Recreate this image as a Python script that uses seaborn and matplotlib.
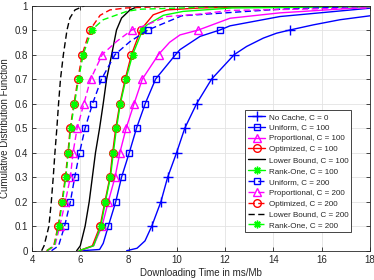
import numpy as np
import pandas as pd
import matplotlib
matplotlib.use("Agg")
import matplotlib.pyplot as plt
import seaborn as sns

# ---------------- data ----------------
labels = ["No Cache, C = 0", "Uniform, C = 100", "Proportional, C = 100",
          "Optimized, C = 100", "Lower Bound, C = 100", "Rank-One, C = 100",
          "Uniform, C = 200", "Proportional, C = 200", "Optimized, C = 200",
          "Lower Bound, C = 200", "Rank-One, C = 200"]

nocache_x = [7.92, 8.35, 8.68, 8.96, 9.34, 9.62, 9.99, 10.33, 10.82, 11.44, 12.38, 12.89, 13.58, 14.13, 14.68, 15.65, 16.76, 18.0]
nocache_y = [0, 0.01, 0.04, 0.1, 0.2, 0.3, 0.4, 0.5, 0.6, 0.7, 0.8, 0.833, 0.867, 0.887, 0.9, 0.921, 0.942, 0.958]

unif100_x = [6.06, 6.8, 6.95, 7.16, 7.47, 7.71, 8.03, 8.33, 8.69, 9.12, 9.95, 10.13, 10.96, 11.78, 12.2, 14.27, 18.0]
unif100_y = [0, 0.005, 0.03, 0.1, 0.2, 0.3, 0.4, 0.5, 0.6, 0.7, 0.8, 0.82, 0.874, 0.9, 0.917, 0.955, 0.989]

prop100_x = [6.0, 6.55, 6.9, 7.16, 7.44, 7.64, 7.9, 8.23, 8.57, 9.24, 9.7, 10.13, 10.89, 12.2, 14.27, 18.0]
prop100_y = [0, 0.02, 0.1, 0.2, 0.3, 0.4, 0.5, 0.6, 0.7, 0.8, 0.85, 0.88, 0.9, 0.948, 0.97, 0.993]

opt100_x = [5.95, 6.5, 6.82, 7.02, 7.23, 7.34, 7.47, 7.64, 7.86, 8.12, 8.5, 9.02, 9.58, 10.96, 14.0, 18.0]
opt100_y = [0, 0.02, 0.1, 0.2, 0.3, 0.4, 0.5, 0.6, 0.7, 0.8, 0.9, 0.962, 0.982, 0.99, 0.997, 1.0]

lb100_x = [5.85, 6.0, 6.2, 6.37, 6.5, 6.63, 6.8, 6.95, 7.09, 7.3, 7.5, 7.71, 8.06, 8.47]
lb100_y = [0, 0.02, 0.1, 0.2, 0.3, 0.4, 0.5, 0.6, 0.7, 0.8, 0.9, 0.949, 0.982, 1.0]

rank100_x = [5.95, 6.55, 6.85, 7.04, 7.25, 7.37, 7.5, 7.66, 7.89, 8.17, 8.58, 8.75, 9.44, 10.26, 12.3, 18.0]
rank100_y = [0, 0.02, 0.1, 0.2, 0.3, 0.4, 0.5, 0.6, 0.7, 0.8, 0.9, 0.92, 0.96, 0.976, 0.99, 0.995]

unif200_x = [4.81, 5.1, 5.35, 5.59, 5.77, 5.97, 6.2, 6.51, 6.88, 7.44, 8.06, 8.8, 10.2, 14.27, 18.0]
unif200_y = [0, 0.02, 0.1, 0.2, 0.3, 0.4, 0.5, 0.6, 0.7, 0.8, 0.853, 0.9, 0.958, 0.985, 0.997]

prop200_x = [4.65, 4.95, 5.15, 5.38, 5.59, 5.7, 5.87, 6.15, 6.43, 6.91, 7.5, 8.13, 8.75, 9.58, 10.96, 12.2, 18.0]
prop200_y = [0, 0.02, 0.1, 0.2, 0.3, 0.4, 0.5, 0.6, 0.7, 0.8, 0.853, 0.9, 0.921, 0.955, 0.965, 0.98, 0.99]

opt200_x = [4.6, 4.9, 5.08, 5.24, 5.38, 5.49, 5.58, 5.74, 5.9, 6.08, 6.4, 6.82, 7.23, 7.9, 10.0, 18.0]
opt200_y = [0, 0.02, 0.1, 0.2, 0.3, 0.4, 0.5, 0.6, 0.7, 0.8, 0.9, 0.96, 0.982, 0.99, 0.998, 1.0]

lb200_x = [4.4, 4.5, 4.7, 4.8, 4.88, 4.95, 5.03, 5.1, 5.18, 5.3, 5.45, 5.57, 5.78, 6.2]
lb200_y = [0, 0.02, 0.1, 0.2, 0.3, 0.4, 0.5, 0.6, 0.7, 0.8, 0.9, 0.949, 0.982, 1.0]

rank200_x = [4.62, 4.92, 5.1, 5.26, 5.4, 5.51, 5.6, 5.76, 5.93, 6.12, 6.47, 6.95, 7.92, 8.5, 12.0, 18.0]
rank200_y = [0, 0.02, 0.1, 0.2, 0.3, 0.4, 0.5, 0.6, 0.7, 0.8, 0.9, 0.942, 0.976, 0.985, 0.995, 0.998]

marker_levels = [0.1, 0.2, 0.3, 0.4, 0.5, 0.6, 0.7, 0.8, 0.9]

xs = [nocache_x, unif100_x, prop100_x, opt100_x, lb100_x, rank100_x,
      unif200_x, prop200_x, opt200_x, lb200_x, rank200_x]
ys = [nocache_y, unif100_y, prop100_y, opt100_y, lb100_y, rank100_y,
      unif200_y, prop200_y, opt200_y, lb200_y, rank200_y]

# ---------------- style ----------------
BLUE, MAG, RED, BLK, GRN = "#0000ff", "#ff00ff", "#ff0000", "#000000", "#00ff00"
styles = [
    dict(color=BLUE, ls="-", marker="+", ms=6.5, mfc=BLUE),
    dict(color=BLUE, ls="-", marker="s", ms=4.5, mfc="none"),
    dict(color=MAG, ls="-", marker="^", ms=6, mfc="none"),
    dict(color=RED, ls="-", marker="o", ms=5.5, mfc="none"),
    dict(color=BLK, ls="-", marker=None, ms=0, mfc="none"),
    dict(color=GRN, ls="-", marker=(8, 2, 0), ms=5.5, mfc=GRN),
    dict(color=BLUE, ls="--", marker="s", ms=4.5, mfc="none"),
    dict(color=MAG, ls="--", marker="^", ms=6, mfc="none"),
    dict(color=RED, ls="--", marker="o", ms=5.5, mfc="none"),
    dict(color=BLK, ls="--", marker=None, ms=0, mfc="none"),
    dict(color=GRN, ls="--", marker=(8, 2, 0), ms=5.5, mfc=GRN),
]

sns.set_theme(style="whitegrid")
plt.rcParams["font.family"] = ["Liberation Sans", "DejaVu Sans"]
TXT = "#262626"

fig = plt.figure(figsize=(3.74, 2.80), dpi=100)
ax = fig.add_axes([32/374, 1 - 250.7/280, (370 - 32)/374, (250.7 - 5.5)/280])
ax.set_facecolor("white")

for lab, x, y, st in zip(labels, xs, ys, styles):
    df = pd.DataFrame({"x": x, "y": y})
    idx = [i for i, v in enumerate(y) if any(abs(v - m) < 1e-9 for m in marker_levels)]
    kw = dict(color=st["color"], linewidth=1.0, label=lab)
    if st["marker"] is not None:
        kw.update(marker=st["marker"], markersize=st["ms"], markevery=idx,
                  markerfacecolor=st["mfc"], markeredgecolor=st["color"],
                  markeredgewidth=1.0)
    sns.lineplot(data=df, x="x", y="y", ax=ax, sort=False, estimator=None, **kw)
    ln = ax.lines[-1]
    if st["ls"] == "--":
        ln.set_dashes((4.5, 2.5))

ax.set_xlim(4, 18)
ax.set_ylim(0, 1)
ax.set_xticks(np.arange(4, 19, 2))
ax.set_yticks(np.round(np.arange(0, 1.01, 0.1), 1))
ax.set_yticklabels(["0", "0.1", "0.2", "0.3", "0.4", "0.5", "0.6", "0.7", "0.8", "0.9", "1"])
ax.grid(True, color="#e3e3e3", linewidth=0.6)
for sp in ax.spines.values():
    sp.set_visible(True)
    sp.set_color(TXT)
    sp.set_linewidth(0.6)
ax.tick_params(axis="both", which="both", direction="in", length=3, width=0.6,
               colors=TXT, labelsize=7, top=True, right=True, bottom=True, left=True,
               pad=3)
ax.set_xlabel("Downloading Time in ms/Mb", fontsize=7, color=TXT, labelpad=2)
ax.set_ylabel("Cumulative Distribution Function", fontsize=7, color=TXT, labelpad=3)

leg = ax.legend(loc="lower right", bbox_to_anchor=(0.944, 0.076), borderaxespad=0,
                fontsize=5.8, frameon=True, fancybox=False, framealpha=1,
                edgecolor=TXT, handlelength=2.2, labelspacing=0.4,
                handletextpad=0.4, borderpad=0.35)
leg.get_frame().set_linewidth(0.6)
for t in leg.get_texts():
    t.set_color(TXT)

fig.savefig("out.png", dpi=100, facecolor="white")
